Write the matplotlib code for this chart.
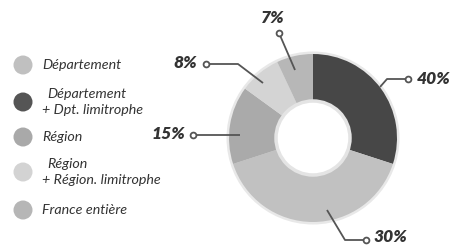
import numpy as np
import matplotlib.pyplot as plt
from matplotlib.patches import Circle

# slices, clockwise from 12 o'clock (angular share as drawn / printed label)
slice_names = ["Département + Dpt. limitrophe", "Département", "Région",
               "Région + Région. limitrophe", "France entière"]
slice_shares = [30, 40, 15, 8, 7]
slice_labels = ["40%", "30%", "15%", "8%", "7%"]
slice_colors = ["#474747", "#c1c1c1", "#aaaaaa", "#d4d4d4", "#b7b7b7"]

legend_labels = [["Département"],
                 ["Département", "+ Dpt. limitrophe"],
                 ["Région"],
                 ["Région", "+ Région. limitrophe"],
                 ["France entière"]]
legend_colors = ["#c0c0c0", "#555555", "#a9a9a9", "#d3d3d3", "#b6b6b6"]

W, H = 454, 245
TXT = "#333333"
LINE = "#555555"

fig = plt.figure(figsize=(W / 100, H / 100), dpi=100)
ax = fig.add_axes([0, 0, 1, 1])

cx, cy = 313, H - 138
r_out, r_in = 84, 37

# pale rim around the ring
ax.add_patch(Circle((cx, cy), r_out + 2.5, facecolor="#e8e8e8", edgecolor="none", zorder=0))
wedges, _ = ax.pie(slice_shares, colors=slice_colors, startangle=90, counterclock=False,
                   center=(cx, cy), radius=r_out,
                   wedgeprops=dict(width=r_out - r_in, edgecolor="none"))
for w in wedges:
    w.set_zorder(1)
ax.add_patch(Circle((cx, cy), r_in, facecolor="white", edgecolor="#e4e4e4", lw=2.5, zorder=2))

# leader lines: anchor on slice -> elbow -> small circle, then label
leaders = [
    [(380, 87), (387, 79), (408, 79)],
    [(327, 210), (345, 240), (366, 240)],
    [(240, 135), (193, 135)],
    [(263, 83), (238, 64), (206, 64)],
    [(295, 70), (279, 33)],
]
label_pos = [(417, 79, "left"), (374, 237, "left"), (185, 134, "right"),
             (197, 63, "right"), (273, 18, "center")]
for pts, lab, (tx, ty, ha) in zip(leaders, slice_labels, label_pos):
    xs = [p[0] for p in pts]
    ys = [H - p[1] for p in pts]
    ax.plot(xs, ys, color=LINE, lw=1.3, zorder=3, solid_capstyle="butt")
    ax.plot(xs[-1], ys[-1], "o", ms=4.2, mfc="white", mec=LINE, mew=1.3, zorder=4)
    ax.text(tx, H - ty, lab, ha=ha, va="center", fontsize=12.5, fontweight="heavy",
            fontstyle="italic", color=TXT, family="Lato")

# legend
row_y = [65, 102, 137, 172, 210]
for lines, col, y in zip(legend_labels, legend_colors, row_y):
    ax.add_patch(Circle((23, H - y), 9.5, facecolor=col, edgecolor="none"))
    if len(lines) == 1:
        ax.text(42, H - y, lines[0], ha="left", va="center", fontsize=10.3,
                fontstyle="italic", color=TXT, family="Lato")
    else:
        ax.text(47, H - y + 8, lines[0], ha="left", va="center", fontsize=10.3,
                fontstyle="italic", color=TXT, family="Lato")
        ax.text(42, H - y - 8, lines[1], ha="left", va="center", fontsize=10.3,
                fontstyle="italic", color=TXT, family="Lato")

ax.set_xlim(0, W)
ax.set_ylim(0, H)
ax.set_aspect("equal")
ax.axis("off")

fig.savefig("out.png", dpi=100, facecolor="white")
